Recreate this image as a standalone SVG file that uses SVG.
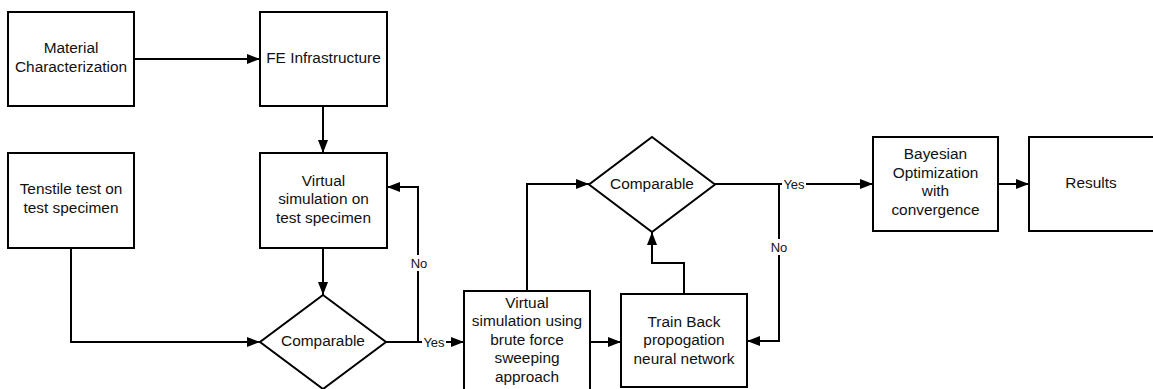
<svg xmlns="http://www.w3.org/2000/svg" width="1153" height="389" viewBox="0 0 1153 389">
<style>
.box{fill:#fff;stroke:#000;stroke-width:2}
.t{font-family:"Liberation Sans",Arial,sans-serif;font-size:15.4px;fill:#111;text-anchor:middle}
.lbl{font-family:"Liberation Sans",Arial,sans-serif;font-size:13px;fill:#111;text-anchor:middle}
.lblbg{fill:#fff}
.c{fill:none;stroke:#000;stroke-width:2}
</style>
<defs>
<marker id="ah" markerUnits="userSpaceOnUse" markerWidth="14" markerHeight="11" refX="13" refY="5" orient="auto">
<path d="M0,0 L13,5 L0,10 z" fill="#000"/>
</marker>
</defs>
<rect width="1153" height="389" fill="#fff"/>
<g id="connectors">
<path class="c" d="M134,59 H260" marker-end="url(#ah)"/>
<path class="c" d="M323,106 V153" marker-end="url(#ah)"/>
<path class="c" d="M323,248 V295" marker-end="url(#ah)"/>
<path class="c" d="M71,248 V342 H260" marker-end="url(#ah)"/>
<path class="c" d="M386,342 H418 V187 H387" marker-end="url(#ah)"/>
<path class="c" d="M418,342 H464" marker-end="url(#ah)"/>
<path class="c" d="M527,291 V184 H589" marker-end="url(#ah)"/>
<path class="c" d="M590,342 H621" marker-end="url(#ah)"/>
<path class="c" d="M684,294 V263 H652 V232" marker-end="url(#ah)"/>
<path class="c" d="M715,184 H873" marker-end="url(#ah)"/>
<path class="c" d="M779,184 V341 H747" marker-end="url(#ah)"/>
<path class="c" d="M998,184 H1029" marker-end="url(#ah)"/>
<rect class="lblbg" x="409" y="255" width="20" height="16"/>
<text class="lbl" x="419" y="267.5">No</text>
<rect class="lblbg" x="422" y="335" width="24" height="15"/>
<text class="lbl" x="434" y="346.5">Yes</text>
<rect class="lblbg" x="782" y="177" width="24" height="15"/>
<text class="lbl" x="794" y="188.5">Yes</text>
<rect class="lblbg" x="769" y="239" width="20" height="16"/>
<text class="lbl" x="779" y="251.5">No</text>
</g>
<g id="material">
<rect class="box" x="8" y="12" width="126" height="94"/>
<text class="t" x="71" y="53">Material</text>
<text class="t" x="71" y="72">Characterization</text>
</g>
<g id="fe">
<rect class="box" x="260" y="12" width="127" height="94"/>
<text class="t" x="323.5" y="63">FE Infrastructure</text>
</g>
<g id="tensile">
<rect class="box" x="8" y="153" width="126" height="95"/>
<text class="t" x="71" y="194">Tenstile test on</text>
<text class="t" x="71" y="212.5">test specimen</text>
</g>
<g id="virtual">
<rect class="box" x="260" y="153" width="127" height="95"/>
<text class="t" x="323.5" y="185.5">Virtual</text>
<text class="t" x="323.5" y="204">simulation on</text>
<text class="t" x="323.5" y="222.5">test specimen</text>
</g>
<g id="comparable1">
<polygon class="box" points="323,295 386,342 323,389 260,342"/>
<text class="t" x="323" y="345.5">Comparable</text>
</g>
<g id="brute">
<rect class="box" x="464" y="291" width="126" height="106"/>
<text class="t" x="527" y="307.5">Virtual</text>
<text class="t" x="527" y="326">simulation using</text>
<text class="t" x="527" y="344.5">brute force</text>
<text class="t" x="527" y="363">sweeping</text>
<text class="t" x="527" y="381.5">approach</text>
</g>
<g id="train">
<rect class="box" x="621" y="294" width="126" height="93"/>
<text class="t" x="684" y="326.5">Train Back</text>
<text class="t" x="684" y="345">propogation</text>
<text class="t" x="684" y="363.5">neural network</text>
</g>
<g id="comparable2">
<polygon class="box" points="652,137 715,184.5 652,232 589,184.5"/>
<text class="t" x="652" y="188.5">Comparable</text>
</g>
<g id="bayesian">
<rect class="box" x="873" y="137" width="125" height="94"/>
<text class="t" x="935.5" y="159">Bayesian</text>
<text class="t" x="935.5" y="177.5">Optimization</text>
<text class="t" x="935.5" y="196">with</text>
<text class="t" x="935.5" y="214.5">convergence</text>
</g>
<g id="results">
<rect class="box" x="1029" y="137" width="126" height="94"/>
<text class="t" x="1091" y="188">Results</text>
</g>
</svg>
